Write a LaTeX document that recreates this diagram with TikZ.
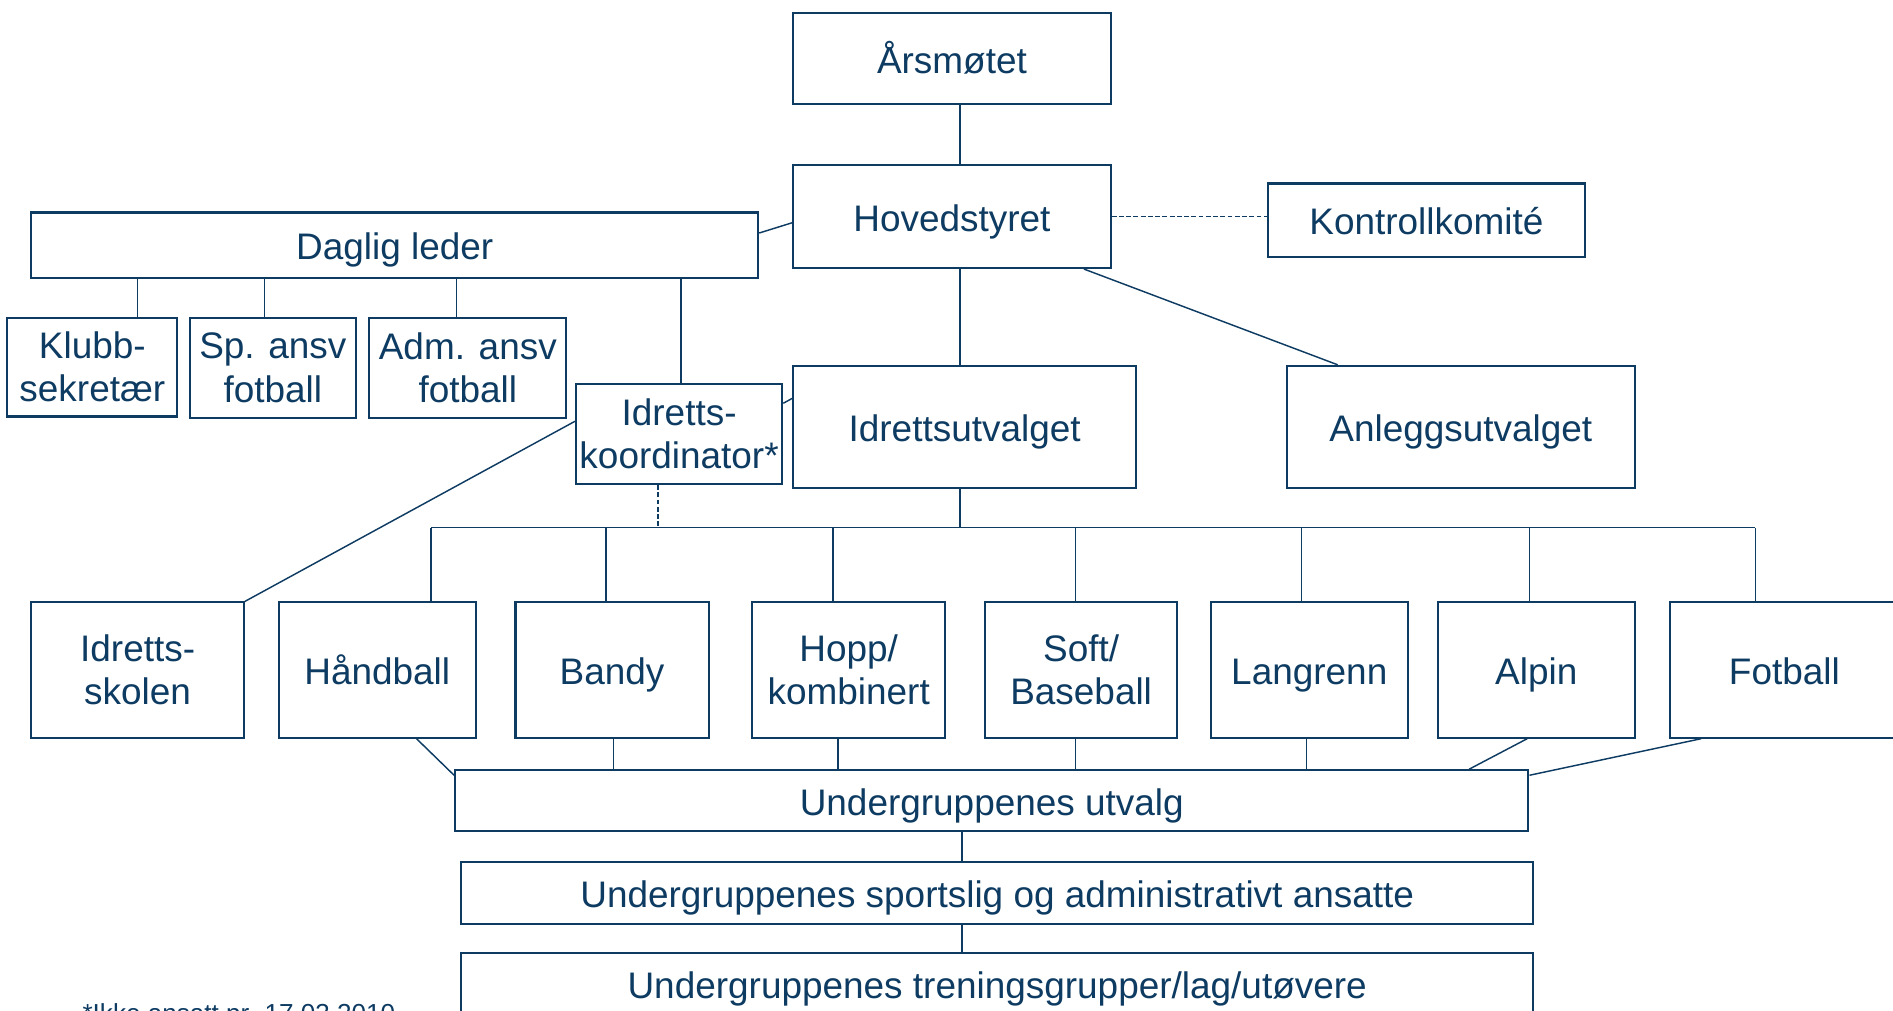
\documentclass[tikz,border=0pt]{standalone}
\usepackage{fontspec}
\setmainfont{Liberation Sans}
\definecolor{navy}{RGB}{13,59,98}
\begin{document}
\begin{tikzpicture}[x=0.5pt,y=-0.5pt,
  boxbase/.style={draw=navy,line width=0.85pt,fill=white,inner sep=0pt,
    text=navy,font=\fontsize{15.3}{18}\selectfont},
  box/.style={boxbase,align=center},
  one/.style={boxbase,text height=14.1pt,text depth=2pt},
  conn/.style={draw=navy,line width=0.6pt},
  dconn/.style={conn,dash pattern=on 2pt off 1pt}]
\useasboundingbox (0,0) rectangle (1568,837);
% top
\node[one,minimum width=131.5pt,minimum height=37.5pt] (ars) at (788.5,48.5) {Årsmøtet};
\node[one,minimum width=131.5pt,minimum height=42.5pt] (hov) at (788.5,179.5) {Hovedstyret};
\node[one,minimum width=131.5pt,minimum height=30.5pt] (kon) at (1181.5,182.5) {Kontrollkomité};
\node[one,minimum width=301pt,minimum height=27pt] (dag) at (327,203) {Daglig leder};
\node[box,minimum width=70.5pt,minimum height=41pt] (klu) at (76.5,304) {Klubb-\\sekretær};
\node[box,minimum width=69pt,minimum height=41.5pt] (sp) at (226,304.5) {Sp. ansv\\fotball};
\node[box,minimum width=81.5pt,minimum height=41.5pt] (adm) at (387.5,304.5) {Adm. ansv\\fotball};
\node[box,minimum width=85.5pt,minimum height=41.5pt] (koo) at (562.5,359.5) {Idretts-\\koordinator*};
\node[one,minimum width=142pt,minimum height=50.5pt] (idr) at (799,353.5) {Idrettsutvalget};
\node[one,minimum width=144pt,minimum height=50.5pt] (anl) at (1210,353.5) {Anleggsutvalget};
% row of groups
\node[box,minimum width=88pt,minimum height=56pt] (isk) at (114,555) {Idretts-\\skolen};
\node[one,minimum width=81.5pt,minimum height=56pt] (han) at (312.5,555) {Håndball};
\node[one,minimum width=80pt,minimum height=56pt] (ban) at (507,555) {Bandy};
\node[box,minimum width=80pt,minimum height=56pt] (hop) at (703,555) {Hopp/\\kombinert};
\node[box,minimum width=79.5pt,minimum height=56pt] (sof) at (895.5,555) {Soft/\\Baseball};
\node[one,minimum width=81.5pt,minimum height=56pt] (lan) at (1084.5,555) {Langrenn};
\node[one,minimum width=81.5pt,minimum height=56pt] (alp) at (1272.5,555) {Alpin};
\node[one,minimum width=95pt,minimum height=56pt] (fot) at (1478,555) {Fotball};
% bottom
\node[one,minimum width=444.5pt,minimum height=25pt] (utv) at (821.5,663) {Undergruppenes utvalg};
\node[one,minimum width=444pt,minimum height=25.5pt] (ans) at (826,739.5) {Undergruppenes sportslig og administrativt ansatte};
\node[one,minimum width=444pt,minimum height=26pt] (tre) at (826,815) {Undergruppenes treningsgrupper/lag/utøvere};
\node[anchor=base west,inner sep=0pt,text=navy,font=\fontsize{10.8}{13}\selectfont] (note) at (68,847) {*Ikke ansatt pr. 17.03.2010};
% bus
\coordinate (busL) at (357,437);
\coordinate (busR) at (1454,437);
% connectors
\draw[conn] ([xshift=3.25pt]ars.south) -- ([xshift=3.25pt]ars.south |- hov.north);
\draw[dconn] (hov.east) -- (hov.east -| kon.west);
\draw[conn] ([yshift=5pt]dag.east) -- ([yshift=-2.5pt]hov.west);
\draw[conn] ([xshift=18.75pt]klu.north) -- ([xshift=18.75pt]klu.north |- dag.south);
\draw[conn] ([xshift=-3.5pt]sp.north) -- ([xshift=-3.5pt]sp.north |- dag.south);
\draw[conn] ([xshift=-4.75pt]adm.north) -- ([xshift=-4.75pt]adm.north |- dag.south);
\draw[conn] ([xshift=0.75pt]koo.north) -- ([xshift=0.75pt]koo.north |- dag.south);
\draw[conn] ([yshift=12.75pt]koo.east) -- ([yshift=11.75pt]idr.west);
\draw[conn] ([yshift=5.25pt]koo.west) -- (isk.north east);
\draw[conn] ([xshift=3.25pt]hov.south) -- ([xshift=3.25pt]hov.south |- idr.north);
\draw[conn] ([xshift=-11.5pt]hov.south east) -- ([xshift=-51pt]anl.north);
\draw[conn] ([xshift=-2pt]idr.south) -- ([xshift=-2pt]idr.south |- busL);
\draw[dconn] ([xshift=-8.75pt]koo.south) -- ([xshift=-8.75pt]koo.south |- busL);
\draw[conn] (busL) -- (busR);
\draw[conn] ([xshift=22.25pt]han.north) -- ([xshift=22.25pt]han.north |- busL);
\draw[conn] ([xshift=-2.5pt]ban.north) -- ([xshift=-2.5pt]ban.north |- busL);
\draw[conn] ([xshift=-6.5pt]hop.north) -- ([xshift=-6.5pt]hop.north |- busL);
\draw[conn] ([xshift=-2.25pt]sof.north) -- ([xshift=-2.25pt]sof.north |- busL);
\draw[conn] ([xshift=-3.25pt]lan.north) -- ([xshift=-3.25pt]lan.north |- busL);
\draw[conn] ([xshift=-2.75pt]alp.north) -- ([xshift=-2.75pt]alp.north |- busL);
\draw[conn] ([xshift=-12pt]fot.north) -- ([xshift=-12pt]fot.north |- busL);
\draw[conn] ([xshift=16.25pt]han.south) -- ([yshift=-2.5pt]utv.north west);
\draw[conn] ([xshift=0.5pt]ban.south) -- ([xshift=0.5pt]ban.south |- utv.north);
\draw[conn] ([xshift=-4.5pt]hop.south) -- ([xshift=-4.5pt]hop.south |- utv.north);
\draw[conn] ([xshift=-2.25pt]sof.south) -- ([xshift=-2.25pt]sof.south |- utv.north);
\draw[conn] ([xshift=-1.25pt]lan.south) -- ([xshift=-1.25pt]lan.south |- utv.north);
\draw[conn] ([xshift=-3.75pt]alp.south) -- ([xshift=-25pt]utv.north east);
\draw[conn] ([xshift=13.5pt]fot.south west) -- ([yshift=-2.5pt]utv.north east);
\draw[conn] ([xshift=-12.25pt]utv.south) -- ([xshift=-12.25pt]utv.south |- ans.north);
\draw[conn] ([xshift=-14.5pt]ans.south) -- ([xshift=-14.5pt]ans.south |- tre.north);
\end{tikzpicture}
\end{document}
